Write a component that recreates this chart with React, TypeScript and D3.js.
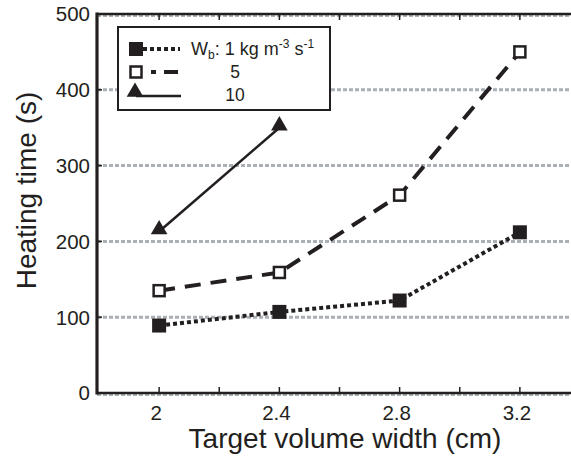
import React from "react";
import * as d3 from "d3";

const widths = [2, 2.4, 2.8, 3.2];
const wb1 = [89, 107, 122, 212];
const wb5 = [135, 159, 261, 450];
const wb10X = [2, 2.4];
const wb10 = [213, 350];
const yTicks = [0, 100, 200, 300, 400, 500];
const xTickLabels = [2, 2.4, 2.8, 3.2];
const xMinorTicks = [2, 2.2, 2.4, 2.6, 2.8, 3.0, 3.2];
const legendLabels = ["1 kg m", "5", "10"];

const W = 571;
const H = 456;
const left = 97;
const right = 580;
const top = 14;
const bottom = 393;

export default function App() {
  const x = d3.scaleLinear().domain([1.8, 3.4]).range([left + 2, right]);
  const y = d3.scaleLinear().domain([0, 500]).range([bottom, top]);
  const line = d3
    .line<[number, number]>()
    .x((d) => x(d[0]))
    .y((d) => y(d[1]));
  const s1 = widths.map((w, i) => [w, wb1[i]] as [number, number]);
  const s5 = widths.map((w, i) => [w, wb5[i]] as [number, number]);
  const s10 = wb10X.map((w, i) => [w, wb10[i]] as [number, number]);
  const font = "'Liberation Sans', Arial, Helvetica, sans-serif";
  const ink = "#231f20";
  const tri = d3.symbol(d3.symbolTriangle, 120)() as string;

  return (
    <div style={{ position: "absolute", left: 0, top: 0 }}>
      <svg width={W} height={H} style={{ display: "block", background: "#fff" }} fontFamily={font}>
        {/* gridlines */}
        {yTicks.map((t) => (
          <line
            key={t}
            x1={left}
            x2={W}
            y1={y(t) + (t === 0 || t === 500 ? 1.5 : 0)}
            y2={y(t) + (t === 0 || t === 500 ? 1.5 : 0)}
            stroke="#aab0b6"
            strokeWidth={3}
            strokeDasharray="4 2"
          />
        ))}
        {/* axes frame */}
        <line x1={left} x2={W} y1={bottom} y2={bottom} stroke={ink} strokeWidth={2.7} />
        <line x1={left} x2={W} y1={top} y2={top} stroke={ink} strokeWidth={2.7} />
        <line x1={left} x2={left} y1={top - 1.5} y2={bottom + 1.5} stroke={ink} strokeWidth={3.2} />
        {xMinorTicks.map((t) => (
          <g key={t}>
            <line x1={x(t)} x2={x(t)} y1={bottom} y2={bottom - 6} stroke={ink} strokeWidth={1.5} />
            <line x1={x(t)} x2={x(t)} y1={top} y2={top + 6} stroke={ink} strokeWidth={1.5} />
          </g>
        ))}
        {yTicks.map((t) => (
          <g key={t}>
            <line x1={left} x2={left + 5} y1={y(t)} y2={y(t)} stroke={ink} strokeWidth={1.5} />
            <text x={90} y={y(t)} dy="0.36em" textAnchor="end" fontSize={20.5} fill={ink}>
              {t}
            </text>
          </g>
        ))}
        {xTickLabels.map((t) => (
          <text key={t} x={x(t) - 3} y={420} textAnchor="middle" fontSize={20.5} fill={ink}>
            {t}
          </text>
        ))}
        <text x={345} y={448} textAnchor="middle" fontSize={28} fill={ink}>
          Target volume width (cm)
        </text>
        <text transform={`translate(36,190.5) rotate(-90)`} textAnchor="middle" fontSize={28} fill={ink}>
          Heating time (s)
        </text>

        {/* series */}
        <path d={line(s1) as string} fill="none" stroke={ink} strokeWidth={4} strokeDasharray="4 3" />
        <path d={line(s5) as string} fill="none" stroke={ink} strokeWidth={4} strokeDasharray="16 10" />
        <path d={line(s10) as string} fill="none" stroke={ink} strokeWidth={2.5} />
        {s1.map((d, i) => (
          <rect key={i} x={x(d[0]) - 7} y={y(d[1]) - 7} width={14} height={14} fill={ink} />
        ))}
        {s5.map((d, i) => (
          <rect key={i} x={x(d[0]) - 5.5} y={y(d[1]) - 5.5} width={11} height={11} fill="#fff" stroke={ink} strokeWidth={2.5} />
        ))}
        {s10.map((d, i) => (
          <path key={i} d={tri} transform={`translate(${x(d[0])},${y(d[1]) - 2})`} fill={ink} />
        ))}

        {/* legend */}
        <rect x={118} y={27} width={212} height={83} fill="#fff" stroke={ink} strokeWidth={2} />
        <line x1={136} x2={180} y1={49} y2={49} stroke={ink} strokeWidth={4} strokeDasharray="4 3" />
        <rect x={129} y={42} width={14} height={14} fill={ink} />
        <line x1={136} x2={178} y1={72} y2={72} stroke={ink} strokeWidth={4} strokeDasharray="0 15 5 8 14 20" />
        <rect x={130.5} y={66.5} width={11} height={11} fill="#fff" stroke={ink} strokeWidth={2.5} />
        <line x1={136} x2={181} y1={96} y2={96} stroke={ink} strokeWidth={2.5} />
        <path d={tri} transform="translate(135,92)" fill={ink} />
        <text x={191} y={55} fontSize={18} fill={ink}>
          W<tspan fontSize={12} dy={4}>b</tspan>
          <tspan dy={-4}>: {legendLabels[0]}</tspan>
          <tspan fontSize={12} dy={-7}>-3</tspan>
          <tspan dy={7}> s</tspan>
          <tspan fontSize={12} dy={-7}>-1</tspan>
        </text>
        <text x={235} y={78} textAnchor="middle" fontSize={17.5} fill={ink}>
          {legendLabels[1]}
        </text>
        <text x={235} y={101} textAnchor="middle" fontSize={17.5} fill={ink}>
          {legendLabels[2]}
        </text>
      </svg>
    </div>
  );
}
